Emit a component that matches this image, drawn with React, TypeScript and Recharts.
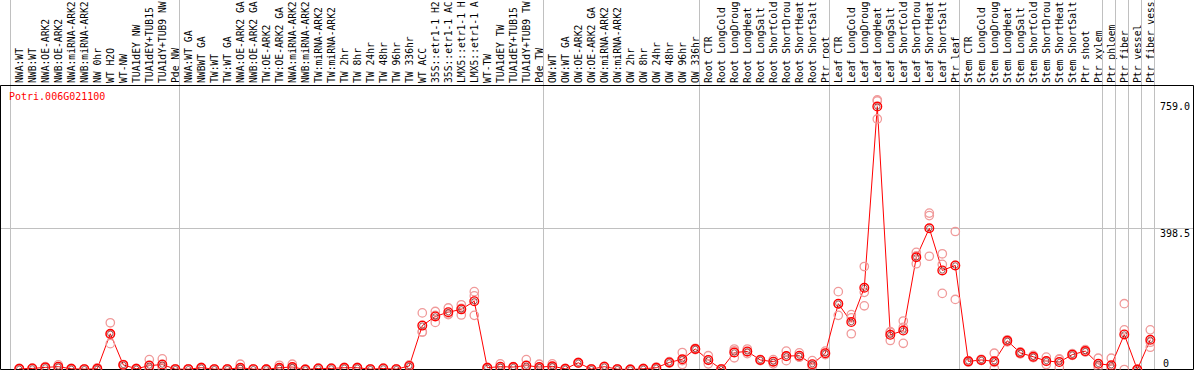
import React from 'react';
import { ComposedChart, Line, XAxis, YAxis, ReferenceLine } from 'recharts';

const geneId = 'Potri.006G021100';

// sample names, already cut to 14 characters like on the original plot
const sampleLabels = [
  'NWA:WT', 'NWB:WT', 'NWA:OE-ARK2', 'NWB:OE-ARK2', 'NWA:miRNA-ARK2', 'NWB:miRNA-ARK2', 'NW 0hr', 'WT H2O', 'WT-NW',
  'TUA1dEY NW', 'TUA1dEY+TUB15', 'TUA1dY+TUB9 NW', 'Pde NW',
  'NWA:WT GA', 'NWBWT GA', 'TW:WT', 'TW:WT GA', 'NWA:OE-ARK2 GA', 'NWB:OE-ARK2 GA', 'TW:OE-ARK2', 'TW:OE-ARK2 GA',
  'NWA:miRNA-ARK2', 'NWB:miRNA-ARK2', 'TW:miRNA-ARK2', 'TW:miRNA-ARK2', 'TW 2hr', 'TW 8hr', 'TW 24hr', 'TW 48hr',
  'TW 96hr', 'TW 336hr', 'WT ACC', '35S::etr1-1 H2', '35S::etr1-1 AC', 'LMX5::etr1-1 H', 'LMX5::etr1-1 A', 'WT-TW',
  'TUA1dEY TW', 'TUA1dEY+TUB15', 'TUA1dY+TUB9 TW', 'Pde TW',
  'OW:WT', 'OW:WT GA', 'OW:OE-ARK2', 'OW:OE-ARK2 GA', 'OW:miRNA-ARK2', 'OW:miRNA-ARK2', 'OW 2hr', 'OW 8hr', 'OW 24hr',
  'OW 48hr', 'OW 96hr', 'OW 336hr',
  'Root CTR', 'Root LongCold', 'Root LongDroug', 'Root LongHeat', 'Root LongSalt', 'Root ShortCold', 'Root ShortDrou',
  'Root ShortHeat', 'Root ShortSalt', 'Ptr root',
  'Leaf CTR', 'Leaf LongCold', 'Leaf LongDroug', 'Leaf LongHeat', 'Leaf LongSalt', 'Leaf ShortCold', 'Leaf ShortDrou',
  'Leaf ShortHeat', 'Leaf ShortSalt', 'Ptr leaf',
  'Stem CTR', 'Stem LongCold', 'Stem LongDroug', 'Stem LongHeat', 'Stem LongSalt', 'Stem ShortCold', 'Stem ShortDrou',
  'Stem ShortHeat', 'Stem ShortSalt', 'Ptr shoot',
  'Ptr xylem', 'Ptr phloem', 'Ptr fiber', 'Ptr vessel', 'Ptr fiber vess',
];

const meanValues = [
  2, 3, 6, 8, 2, 1, 2, 101, 13, 2, 11, 14, 1,
  1, 5, 1, 1, 5, 1, 0.5, 5, 7, 0, 3, 3, 5, 5, 1, 3, 1, 10, 124, 150, 162, 170, 193, 5, 8, 7, 11, 7,
  9, 2, 19, 1, 8, 1, 0, 2, 5, 20, 29, 58,
  27, 1, 48, 51, 27, 22, 38, 39, 15, 46,
  186, 134, 231, 743, 98, 110, 317, 399, 280, 294,
  23, 27, 23, 81, 47, 36, 24, 21, 42, 52,
  16, 12, 99, 0, 84,
];

const rep1 = [
  1, 2, 5, 6, 1, 0, 1, 132, 12, 1, 28, 30, 0,
  1, 4, 0, 0, 15, 1, 0, 12, 15, 0, 2, 3, 6, 4, 0, 2, 0, 9, 160, 164, 174, 183, 220, 4, 16, 8, 28, 15,
  16, 1, 20, 0, 9, 0, 0, 1, 4, 22, 48, 60,
  39, 0, 58, 58, 28, 28, 52, 47, 25, 52,
  220, 155, 291, 762, 105, 137, 331, 442, 327, 390,
  22, 29, 46, 84, 50, 40, 35, 30, 45, 56,
  32, 32, 186, 0, 112,
];

const rep2 = [
  3, 4, 8, 13, 3, 1, 5, 73, 14, 3, 2, 8, 2,
  1, 6, 1, 1, 0, 2, 1, 2, 4, 0, 4, 4, 5, 6, 1, 4, 1, 13, 106, 133, 157, 173, 208, 6, 4, 7, 3, 4,
  6, 3, 18, 2, 7, 1, 0, 3, 7, 18, 14, 56,
  16, 2, 33, 45, 25, 16, 25, 35, 8, 42,
  153, 101, 218, 759, 82, 74, 299, 435, 297, 294,
  25, 26, 3, 78, 44, 34, 14, 5, 40, 50,
  6, 1, 112, 0, 63,
];

const rep3 = [
  2, 3, 6, 5, 2, 1, 0, 99, 13, 2, 2, 4, 1,
  2, 5, 1, 1, 1, 1, 0, 1, 2, 1, 3, 2, 4, 5, 1, 3, 1, 8, 106, 153, 155, 154, 153, 5, 4, 6, 2, 2,
  5, 2, 19, 1, 8, 1, 1, 2, 4, 20, 25, 58,
  26, 1, 53, 50, 28, 22, 37, 35, 12, 44,
  185, 146, 180, 708, 107, 119, 321, 320, 215, 198,
  21, 26, 20, 81, 47, 34, 23, 28, 41, 50,
  10, 3, 0, 1, 77,
];

// first sample of every block, plus the closing edge after the last one
const groupStarts = [0, 13, 41, 53, 63, 73, 84, 85, 86, 87, 88];
const yTicks = [0, 398.5, 759.0];
const yMax = 802.6;

const rows = sampleLabels.map((name, i) => ({
  idx: i,
  name,
  mean: meanValues[i],
  r1: rep1[i],
  r2: rep2[i],
  r3: rep3[i],
}));

const xTicks = Array.from({ length: sampleLabels.length + 1 }, (_, i) => i);
const xMin = -1.446;
const xMax = xMin + 1193 / 13;

const mono = 'DejaVu Sans Mono';
const RED = '#ff0000';
const PINK = '#f09a9a';
const GRID = '#c0c0c0';

function SampleTick(props: any) {
  const { x, payload } = props;
  const i = payload.value;
  const label = sampleLabels[i];
  return (
    <g>
      {groupStarts.includes(i) && (
        <line x1={x - 8.8} x2={x - 8.8} y1={0} y2={85} stroke={GRID} strokeWidth={1} />
      )}
      {label && (
        <text
          transform={`translate(${x + 3.5},83) rotate(-90)`}
          fontFamily={mono}
          fontSize={9.7}
          fill="#000"
        >
          {label}
        </text>
      )}
    </g>
  );
}

// value written at the right end of its level line
function valueLabel(v: number) {
  return (p: any) => {
    const y = p.viewBox ? p.viewBox.y : 0;
    return (
      <text x={v === 0 ? 1163 : 1160} y={v === 0 ? y - 3 : y + 9} fontFamily={mono} fontSize={10} fill="#000">
        {v === 0 ? '0' : v.toFixed(1)}
      </text>
    );
  };
}

function MeanDot(props: any) {
  const { cx, cy, index } = props;
  if (cx == null || cy == null) return <g key={index} />;
  return (
    <g key={index}>
      <circle cx={cx} cy={cy} r={4.3} fill="none" stroke={RED} strokeWidth={1.4} />
      <circle cx={cx} cy={cy} r={2.7} fill="none" stroke="#5a0000" strokeWidth={0.6} />
    </g>
  );
}

function RepDot(props: any) {
  const { cx, cy, index } = props;
  if (cx == null || cy == null) return <g key={index} />;
  return <circle key={index} cx={cx} cy={cy} r={4.2} fill="none" stroke={PINK} strokeWidth={1.3} />;
}

export default function App() {
  return (
    <div style={{ width: 1194, height: 370, background: '#fff' }}>
      <style>{'body{margin:0;background:#fff}'}</style>
      <ComposedChart
        width={1194}
        height={370}
        data={rows}
        margin={{ top: 0, right: 0.5, bottom: 0.5, left: 0.5 }}
      >
        <XAxis
          dataKey="idx"
          type="number"
          orientation="top"
          domain={[xMin, xMax]}
          allowDataOverflow
          ticks={xTicks}
          interval={0}
          height={85.5}
          axisLine={{ stroke: '#000', strokeWidth: 1 }}
          tickLine={false}
          tick={<SampleTick />}
        />
        <YAxis hide domain={[0, yMax]} allowDataOverflow />
        {groupStarts.map((g) => (
          <ReferenceLine key={g} x={g - 0.677} stroke={GRID} strokeWidth={1} />
        ))}
        {yTicks.map((v) => (
          <ReferenceLine
            key={`y${v}`}
            y={v}
            stroke={v === 0 ? '#000' : v === 398.5 ? GRID : 'none'}
            strokeWidth={1}
            label={{ content: valueLabel(v) }}
          />
        ))}
        <ReferenceLine x={xMin} stroke="#000" strokeWidth={1} />
        <ReferenceLine x={xMax} stroke="#000" strokeWidth={1} />
        <Line dataKey="r1" stroke="none" dot={<RepDot />} activeDot={false} isAnimationActive={false} />
        <Line dataKey="r2" stroke="none" dot={<RepDot />} activeDot={false} isAnimationActive={false} />
        <Line dataKey="r3" stroke="none" dot={<RepDot />} activeDot={false} isAnimationActive={false} />
        <Line
          dataKey="mean"
          stroke={RED}
          strokeWidth={1}
          dot={<MeanDot />}
          activeDot={false}
          isAnimationActive={false}
        />
      </ComposedChart>
      <div
        style={{
          position: 'absolute',
          left: 9,
          top: 92,
          fontFamily: mono,
          fontSize: 10,
          color: RED,
          lineHeight: '10px',
        }}
      >
        {geneId}
      </div>
    </div>
  );
}
